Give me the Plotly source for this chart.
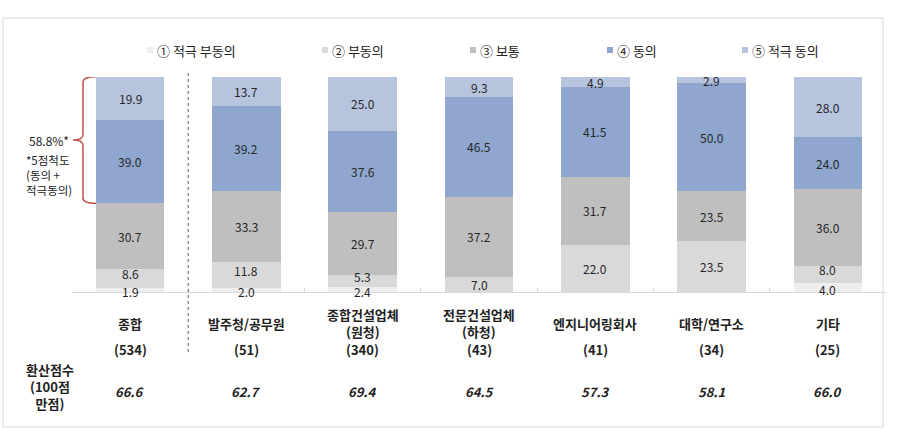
import plotly.graph_objects as go

categories = ["종합", "발주청/공무원", "종합건설업체(원청)", "전문건설업체(하청)", "엔지니어링회사", "대학/연구소", "기타"]
cat_labels = ["종합", "발주청/공무원", "종합건설업체<br>(원청)", "전문건설업체<br>(하청)", "엔지니어링회사", "대학/연구소", "기타"]
sample_n = [534, 51, 340, 43, 41, 34, 25]
scores = [66.6, 62.7, 69.4, 64.5, 57.3, 58.1, 66.0]
series_names = ["① 적극 부동의", "② 부동의", "③ 보통", "④ 동의", "⑤ 적극 동의"]
s1 = [1.9, 2.0, 2.4, None, None, None, 4.0]
s2 = [8.6, 11.8, 5.3, 7.0, 22.0, 23.5, 8.0]
s3 = [30.7, 33.3, 29.7, 37.2, 31.7, 23.5, 36.0]
s4 = [39.0, 39.2, 37.6, 46.5, 41.5, 50.0, 24.0]
s5 = [19.9, 13.7, 25.0, 9.3, 4.9, 2.9, 28.0]
agree_share = 58.8  # as printed in the reference
series = [s1, s2, s3, s4, s5]
colors = ["#eeeeee", "#d9d9d9", "#bfbfbf", "#8fa6cf", "#b6c4de"]

FONT = "Noto Sans CJK KR"
W, H = 903, 429
L, R, T, B = 72, 17, 77, 137
PW = W - L - R
PH = H - T - B


def px(x):
    return (x - L) / PW


def py(y):
    return (H - B - y) / PH


fig = go.Figure()
for name, vals, col in zip(series_names, series, colors):
    fig.add_trace(go.Bar(
        x=categories, y=vals, name=name, marker=dict(color=col, line=dict(width=0)),
        width=0.59, showlegend=False, hoverinfo="skip",
    ))

shapes = []
annotations = []

# segment value labels (centred in each segment, small bottom segments nudged apart)
for ci, cat in enumerate(categories):
    base = 0.0
    for si, vals in enumerate(series):
        v = vals[ci]
        if not v:
            continue
        ys = 0
        if si == 0:
            ys = -2
        elif si == 1 and s1[ci]:
            ys = 5
        annotations.append(dict(xref="x", yref="y", x=cat, y=base + v / 2, yshift=ys, text=f"{v:.1f}",
                                showarrow=False, yanchor="middle",
                                font=dict(size=12, color="#262626", family=FONT)))
        base += v

# frame
shapes.append(dict(type="rect", xref="paper", yref="paper", x0=px(3), x1=px(883), y0=py(427), y1=py(18),
                   line=dict(color="#d9d9d9", width=1), fillcolor="rgba(0,0,0,0)", layer="below"))

# manual legend
leg_x = [147, 322, 470, 607, 742]
for lx, name, col in zip(leg_x, series_names, colors):
    shapes.append(dict(type="rect", xref="paper", yref="paper", x0=px(lx), x1=px(lx + 6),
                       y0=py(53), y1=py(47), fillcolor=col, line=dict(width=0)))
    annotations.append(dict(xref="paper", yref="paper", x=px(lx + 8), y=py(50), xanchor="left", yanchor="middle",
                            text=name, showarrow=False, font=dict(size=13, color="#222", family=FONT)))

# dotted separator between 종합 and others
shapes.append(dict(type="line", xref="x", yref="paper", x0=0.5, x1=0.5, y0=py(352), y1=py(72),
                   line=dict(color="#8c8c8c", width=1.5, dash="dot")))

# category labels, N, scores
for cat, lab, n, sc in zip(categories, cat_labels, sample_n, scores):
    annotations.append(dict(xref="x", yref="paper", x=cat, y=py(323), yanchor="middle", text=f"<b>{lab}</b>",
                            showarrow=False, font=dict(size=13, color="#222", family=FONT)))
    annotations.append(dict(xref="x", yref="paper", x=cat, y=py(349), yanchor="middle", text=f"<b>({n})</b>",
                            showarrow=False, font=dict(size=13, color="#222", family=FONT)))
    annotations.append(dict(xref="x", yref="paper", x=cat, y=py(391), yanchor="middle", text=f"<b><i>{sc:.1f}</i></b>",
                            showarrow=False, font=dict(size=13, color="#222", family=FONT)))

annotations.append(dict(xref="paper", yref="paper", x=px(50), y=py(386), yanchor="middle", xanchor="center",
                        text="<b>환산점수<br>(100점<br>만점)</b>", showarrow=False, align="center",
                        font=dict(size=13, color="#222", family=FONT)))

# bracket for agree + strongly agree of 종합
top = s1[0] + s2[0] + s3[0] + s4[0] + s5[0]
bot = s1[0] + s2[0] + s3[0]
mid = (top + bot) / 2
r = 2.5
xe, xv, xm = px(96), px(83), px(73)
path = (f"M {xe},{top} Q {xv},{top} {xv},{top - r} L {xv},{mid + r} Q {xv},{mid} {xm},{mid} "
        f"Q {xv},{mid} {xv},{mid - r} L {xv},{bot + r} Q {xv},{bot} {xe},{bot}")
shapes.append(dict(type="path", xref="paper", yref="y", path=path, line=dict(color="#c0504d", width=1.5)))
annotations.append(dict(xref="paper", yref="y", x=px(49), y=mid, xanchor="center", yanchor="middle",
                        text=f"{agree_share:.1f}%*", showarrow=False, font=dict(size=12, color="#222", family=FONT)))
annotations.append(dict(xref="paper", yref="paper", x=px(24), y=py(175), xanchor="left",
                        yanchor="middle", text="*5점척도<br>(동의 +<br>적극동의)", showarrow=False, align="left",
                        font=dict(size=11.5, color="#222", family=FONT)))

fig.update_layout(
    width=W, height=H, margin=dict(l=L, r=R, t=T, b=B),
    barmode="stack", plot_bgcolor="white", paper_bgcolor="white",
    font=dict(family=FONT, size=11, color="#222"),
    showlegend=False, shapes=shapes, annotations=annotations,
    xaxis=dict(showticklabels=False, showline=True, linecolor="#d9d9d9", linewidth=1,
               ticks="inside", tickson="boundaries", ticklen=4, tickcolor="#d9d9d9",
               showgrid=False, range=[-0.5, 6.5], fixedrange=True),
    yaxis=dict(range=[0, 100], visible=False, showgrid=False, fixedrange=True),
)

fig.write_html("out.html")
